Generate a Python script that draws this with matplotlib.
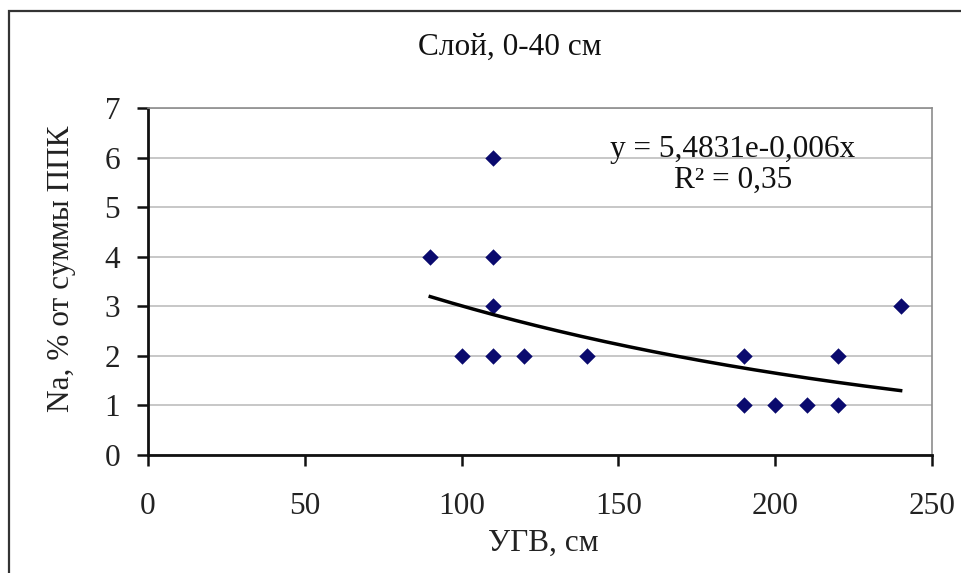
import numpy as np
import matplotlib
matplotlib.use("Agg")
import matplotlib.pyplot as plt
from matplotlib.patches import Rectangle

# Data
ugv = [90, 100, 110, 110, 110, 110, 120, 140, 190, 190, 200, 210, 220, 220, 240]
na = [4, 2, 6, 4, 3, 2, 2, 2, 2, 1, 1, 1, 2, 1, 3]
trend_a = 5.4831
trend_b = -0.006
r2_text = "0,35"
x_ticks = [0, 50, 100, 150, 200, 250]
y_ticks = [0, 1, 2, 3, 4, 5, 6, 7]

title = "Слой, 0-40 см"
xlabel = "УГВ, см"
ylabel = "Na, % от суммы ППК"

plt.rcParams['font.family'] = ['Liberation Serif', 'DejaVu Serif']

W, H = 962, 573
fig = plt.figure(figsize=(W / 100, H / 100), dpi=100)
fig.patch.set_facecolor('white')

# outer frame
fig.add_artist(Rectangle((9 / W, -0.05), 1.1, 1 - 11 / H + 0.05, transform=fig.transFigure,
                         fill=False, edgecolor='#333333', linewidth=1.6))

ax = fig.add_axes([148 / W, 1 - 455 / H, (932 - 148) / W, (455 - 108) / H])
ax.set_xlim(0, 250)
ax.set_ylim(0, 7)
ax.set_xticks(x_ticks)
ax.set_yticks(y_ticks)
ax.grid(axis='y', color='#bdbdbd', linewidth=1.2)
ax.set_axisbelow(True)

for s in ['top', 'right']:
    ax.spines[s].set_color('#8c8c8c')
    ax.spines[s].set_linewidth(1.2)
for s in ['left', 'bottom']:
    ax.spines[s].set_color('#111111')
    ax.spines[s].set_linewidth(2.0)

FS = 22.5
ax.tick_params(axis='both', direction='out', length=8, width=1.8, color='#111111',
               labelsize=FS, labelcolor='#222222')
ax.tick_params(axis='x', pad=19)
ax.tick_params(axis='y', pad=12)

ax.scatter(ugv, na, marker='D', s=70, color='#0a0a6e', zorder=3, linewidths=0)

xs = np.linspace(min(ugv), max(ugv), 200)
ax.plot(xs, trend_a * np.exp(trend_b * xs), color='black', linewidth=2.5, zorder=4)

fig.text(510 / W, 1 - 47 / H, title, ha='center', va='center', fontsize=FS, color='#111111')
fig.text(543 / W, 1 - 543 / H, xlabel, ha='center', va='center', fontsize=FS, color='#222222')
fig.text(62 / W, 1 - 269 / H, ylabel, ha='center', va='center', rotation=90, fontsize=FS,
         color='#222222')

fig.text(733 / W, 1 - 149 / H, "y = 5,4831e-0,006x", ha='center', va='center', fontsize=FS,
         color='#111111')
fig.text(733 / W, 1 - 180 / H, "R² = " + r2_text, ha='center', va='center', fontsize=FS,
         color='#111111')

fig.savefig("out.png", dpi=100)
